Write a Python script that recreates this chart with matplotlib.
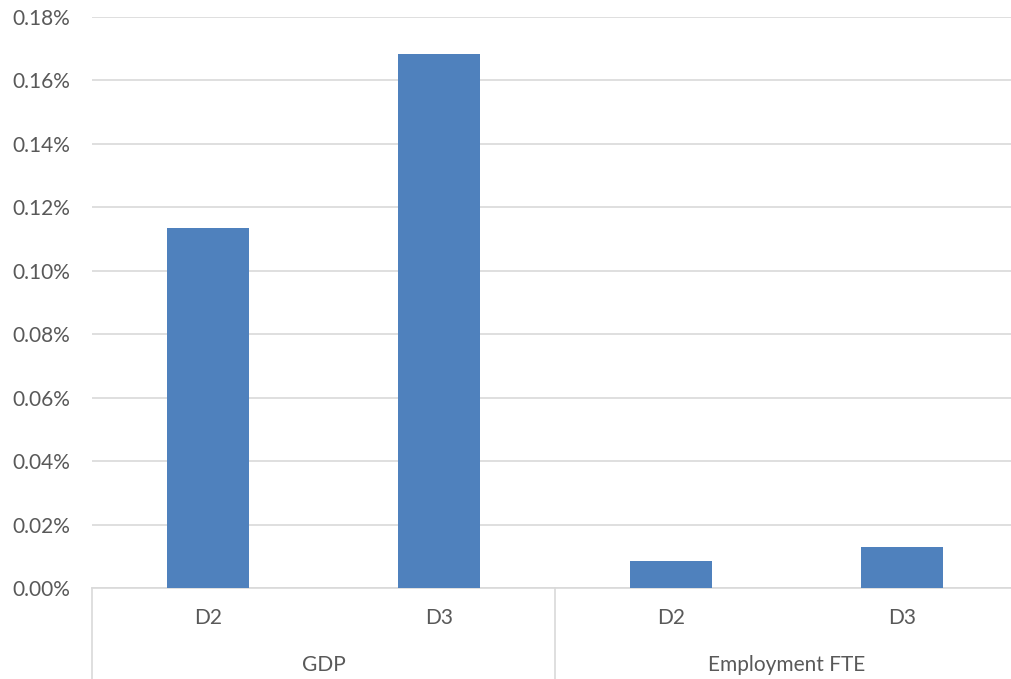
import matplotlib.pyplot as plt
from matplotlib.ticker import FuncFormatter

groups = ['GDP', 'Employment FTE']
subcats = ['D2', 'D3', 'D2', 'D3']
values = [0.001136, 0.001682, 0.000086, 0.000130]

plt.rcParams['font.family'] = ['Lato', 'DejaVu Sans']

W, H = 1011, 679
fig = plt.figure(figsize=(W / 100, H / 100), dpi=100)
left, right, bottom, top = 92, 1018, 588, 17
ax = fig.add_axes([left / W, 1 - bottom / H, (right - left) / W, (bottom - top) / H])

x = list(range(len(values)))
ax.bar(x, values, width=0.355, color='#4F81BD', zorder=3)

ax.set_xlim(-0.5, len(values) - 0.5)
ax.set_ylim(0, 0.0018)
ax.set_yticks([i * 0.0002 for i in range(10)])
ax.yaxis.set_major_formatter(FuncFormatter(lambda v, p: f'{v * 100:.2f}%'))
ax.grid(axis='y', color='#D9D9D9', linewidth=1.2, zorder=0)
for s in ['top', 'right', 'left']:
    ax.spines[s].set_visible(False)
ax.spines['bottom'].set_color('#D9D9D9')
ax.spines['bottom'].set_linewidth(1.2)
ax.tick_params(axis='y', length=0, pad=16, labelsize=15, labelcolor='#595959')
ax.set_xticks([])

# multi-level category axis
tr = ax.get_xaxis_transform()
for xi, lab in zip(x, subcats):
    ax.text(xi, -30 / (bottom - top), lab, transform=tr, ha='center', va='center',
            fontsize=15, color='#595959')
for gi, g in enumerate(groups):
    ax.text(gi * 2 + 0.5, -77 / (bottom - top), g, transform=tr, ha='center', va='center',
            fontsize=15, color='#595959')
    ax.plot([gi * 2 - 0.5, gi * 2 - 0.5], [0, -92 / (bottom - top)], transform=tr,
            color='#D9D9D9', linewidth=1.2, clip_on=False)

fig.savefig('out.png', dpi=100)
